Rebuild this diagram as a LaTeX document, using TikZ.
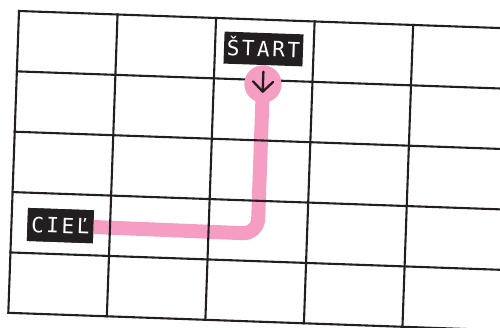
\documentclass[tikz,border=0pt]{standalone}
\usepackage{fontspec}
\newfontfamily\labelfont{DejaVu Sans Mono}[LetterSpace=12]
\definecolor{gridink}{HTML}{231F20}
\definecolor{pathpink}{RGB}{245,157,195}
\tikzset{
  gridline/.style={draw=gridink, line width=2.1pt},
  pinkpath/.style={draw=pathpink, line width=14pt, rounded corners=15pt},
  tag/.style={fill=gridink, text=white, inner sep=0pt, transform shape,
    font=\labelfont\fontsize{21}{21}\selectfont, text height=15.3pt, text depth=0pt},
  startdot/.style={circle, fill=pathpink, minimum size=37pt, inner sep=0pt, transform shape},
  arrowink/.style={draw=gridink, line width=2.3pt, line cap=round, line join=round}
}
\begin{document}
\begin{tikzpicture}[x=1pt,y=-1pt]
\useasboundingbox (0,0) rectangle (500,327);
\clip (0,0) rectangle (500,327);
\begin{scope}[shift={(19,11)}]
\begin{scope}[rotate=-2.03]
  % named positions
  \node[tag, minimum width=66pt, minimum height=33pt] (ciel) at (49,213) {CIEĽ};
  \coordinate (bend) at (246.4,214.2);
  \node[startdot] (dot) at (246.4,64.3) {};
  % path (under the grid)
  \draw[pinkpath] (ciel.center) -- (bend) -- (dot.center);
  % grid
  \foreach \j in {0,...,5} {
    \draw[gridline] (-1,{\j*60.4}) -- (560,{\j*60.4});
  }
  \foreach \k in {0,...,5} {
    \draw[gridline] ({\k*98.6},-1) -- ({\k*98.6},{5*60.4+1});
  }
  % dot and labels on top
  \node[startdot] at (dot) {};
  \draw[arrowink] ([yshift=12.3pt]dot.center) -- ([yshift=-7.7pt]dot.center);
  \draw[arrowink] ([xshift=-10pt,yshift=2.3pt]dot.center) -- ([yshift=-7.7pt]dot.center) -- ([xshift=10pt,yshift=2.3pt]dot.center);
  \node[tag, minimum width=79pt, minimum height=32pt] (start) at (245.7,29.3) {ŠTART};
  \node[tag, minimum width=66pt, minimum height=33pt] at (ciel) {CIEĽ};
\end{scope}
\end{scope}
\end{tikzpicture}
\end{document}
